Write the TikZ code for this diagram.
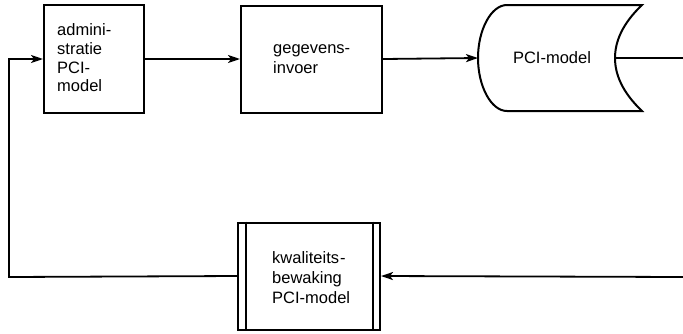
\documentclass[tikz,border=0pt]{standalone}
\usepackage{fontspec}
\setmainfont{Liberation Sans}
\usetikzlibrary{arrows.meta}
\begin{document}
\begin{tikzpicture}[x=1pt,y=-1pt,
  flowbox/.style={draw,line width=2pt,rectangle,anchor=center,inner sep=0pt},
  label/.style={anchor=west,align=left,inner sep=0pt,
    font=\fontsize{16.5}{20}\selectfont},
  flow/.style={line width=1.8pt,-{Stealth[length=12pt,width=8pt,inset=3pt]}},
  plain/.style={line width=1.8pt}]
  \useasboundingbox (0,0) rectangle (683,333);

  % process boxes
  \node[flowbox,minimum width=100pt,minimum height=108pt] (adm) at (94,59) {};
  \node[label,font=\fontsize{16.5}{18.7}\selectfont] (admT) at (57,58)
        {admini-\\stratie\\PCI-\\model};
  \node[flowbox,minimum width=141pt,minimum height=107pt] (inv) at (311.5,59) {};
  \node[label] (invT) at (273,59) {gegevens-\\invoer};
  \node[flowbox,minimum width=142pt,minimum height=107pt] (kwb) at (309,276) {};
  \node[label] (kwbT) at (272,278) {kwaliteits\kern1pt-\\bewaking\\PCI-model};
  % predefined-process bars
  \draw[line width=2pt] ([xshift=9pt]kwb.north west) -- ([xshift=9pt]kwb.south west);
  \draw[line width=2pt] ([xshift=-8pt]kwb.north east) -- ([xshift=-8pt]kwb.south east);

  % stored data shape
  \draw[line width=2pt,line join=miter] (507,5) -- (642,5)
     .. controls (622,24) and (615,42) .. (615,58)
     .. controls (615,74) and (622,92) .. (642,111)
     -- (507,111)
     .. controls (491,111) and (478,86) .. (478,58)
     .. controls (478,30) and (491,5) .. (507,5) -- cycle;
  \coordinate (pciL) at (478,58);
  \coordinate (pciR) at (615,58);
  \node[font=\fontsize{16.5}{19}\selectfont] (pci) at (552,58) {PCI-model};

  % connectors
  \coordinate (outR) at (683,58);
  \coordinate (inR) at (683,277);
  \coordinate (ret) at (9,277);
  \draw[flow] (adm.east) -- (inv.west);
  \draw[flow] (inv.east) -- (pciL);
  \draw[plain] (pciR) -- (outR);
  \draw[flow] (inR) -- (kwb.east);
  \draw[flow] (kwb.west) -- (ret) |- (adm.west);
\end{tikzpicture}
\end{document}
